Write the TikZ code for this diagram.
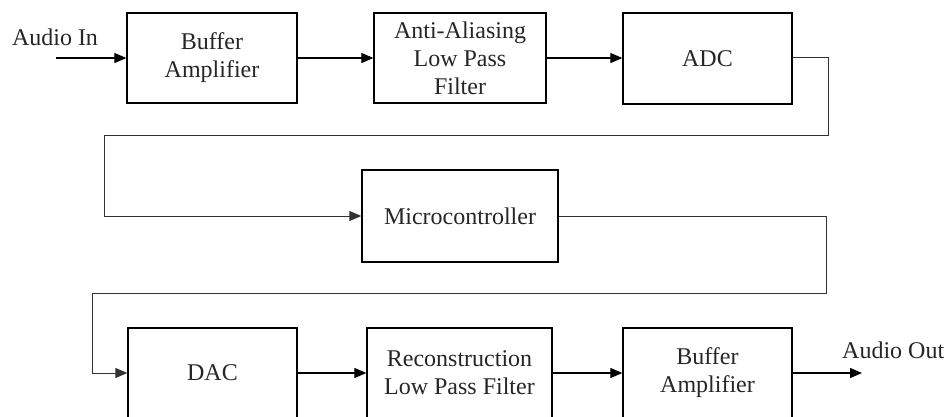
\documentclass[tikz,border=0pt]{standalone}
\usepackage{fontspec}
\setmainfont{Liberation Serif}
\usetikzlibrary{arrows.meta}
\begin{document}
\begin{tikzpicture}[x=1pt,y=-1pt,
  blk/.style={draw=black,line width=1.3pt,fill=white,inner sep=0pt,align=center,
    font=\fontsize{24}{28}\selectfont,text=black!85},
  tip/.style={-{Triangle[length=12pt,width=10pt]}},
  conn/.style={draw=black,line width=1.2pt,tip},
  wire/.style={draw=black!80,line width=1pt,tip},
  lbl/.style={inner sep=0pt,font=\fontsize{24}{28}\selectfont,text=black!85}]
\clip (0,0) rectangle (948,417);
\fill[white] (0,0) rectangle (948,417);
\node[blk,minimum width=170pt,minimum height=90pt] (buf1) at (212,58) {Buffer\\Amplifier};
\node[blk,minimum width=172pt,minimum height=90pt] (aa) at (460,58) {Anti-Aliasing\\Low Pass\\Filter};
\node[blk,minimum width=169pt,minimum height=91pt] (adc) at (707.5,58.5) {ADC};
\node[blk,minimum width=196pt,minimum height=92pt] (mc) at (460,216) {Microcontroller};
\node[blk,minimum width=169pt,minimum height=90pt] (dac) at (212.5,373) {DAC};
\node[blk,minimum width=185pt,minimum height=90pt] (rec) at (459.5,373) {Reconstruction\\Low Pass Filter};
\node[blk,minimum width=169pt,minimum height=90pt] (buf2) at (707.5,373) {Buffer\\Amplifier};
\node[lbl] (ain) at (55,37) {Audio In};
\node[lbl,anchor=west] (aout) at (842,350) {Audio Out};
\coordinate (inS) at (56,58);
\coordinate (outE) at (862,373);
\draw[conn] (inS) -- (buf1.west);
\draw[conn] (buf1.east) -- (aa.west);
\draw[conn] (aa.east) -- (adc.west |- aa.east);
\draw[wire] (adc.east |- aa.east) -- (828,58) -- (828,136) -- (104,136) -- (104,216) -- (mc.west);
\draw[wire] (mc.east) -- (826,216) -- (826,293) -- (92,293) -- (92,373) -- (dac.west);
\draw[conn] (dac.east) -- (rec.west);
\draw[conn] (rec.east) -- (buf2.west);
\draw[conn] (buf2.east) -- (outE);
\end{tikzpicture}
\end{document}
